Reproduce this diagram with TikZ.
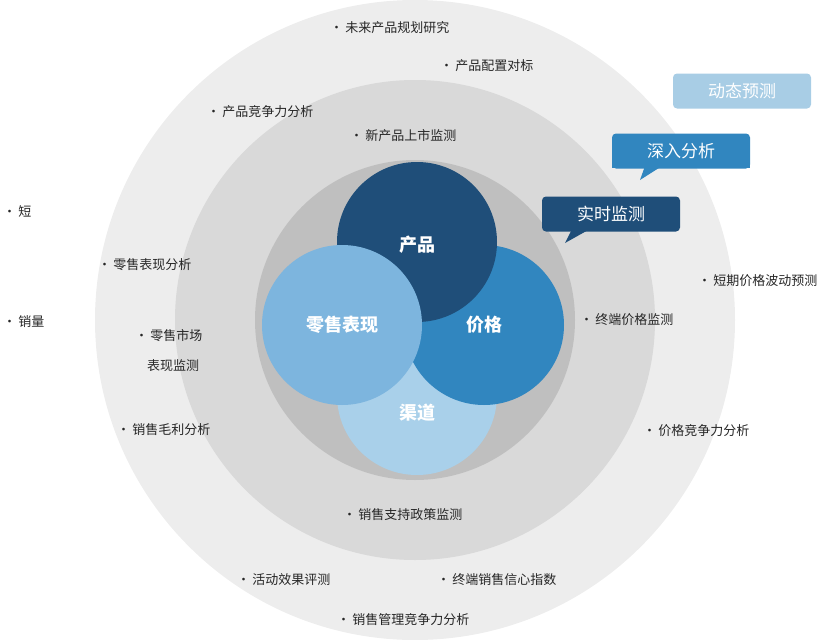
\documentclass[tikz,border=0pt]{standalone}
\usepackage{fontspec}
\setmainfont{Noto Sans CJK SC}
\begin{document}
\begin{tikzpicture}[x=1pt,y=-1pt,
 lab/.style={anchor=west,inner sep=0pt,font=\fontsize{13}{15}\selectfont,text=black!85},
 venn/.style={font=\fontsize{18}{20}\selectfont\bfseries,text=white},
 call/.style={rounded corners=4pt,minimum width=138pt,minimum height=35pt,text=white,font=\fontsize{17}{19}\selectfont}]
\useasboundingbox (0,0) rectangle (836,640);
\definecolor{cA}{HTML}{1F4E79}\definecolor{cB}{HTML}{3186BF}
\definecolor{cC}{HTML}{7DB5DE}\definecolor{cD}{HTML}{A9D0EA}
\definecolor{cE}{HTML}{A8CDE5}
\fill[black!7] (415,320) circle (320);
\fill[black!15] (415,320) circle (240);
\fill[black!25] (415,320) circle (160);
\fill[cD] (417,395) circle (80);
\fill[cB] (484,325) circle (80);
\fill[cA] (417,242) circle (80);
\fill[cC] (342,325) circle (80);
\node[venn] (p) at (417,245) {产品};
\node[venn] (j) at (484,325) {价格};
\node[venn] (l) at (342,325) {零售表现};
\node[venn] (q) at (417,413) {渠道};
\node[call,fill=cE] (c1) at (742,91) {动态预测};
\fill[cB] (612,150) rectangle (750,168) ; 
\node[call,fill=cB] (c2) at (681,151) {深入分析};
\fill[cB] (645,166) -- (640,180) -- (662,166) -- cycle;
\node[call,fill=cA] (c3) at (611,214) {实时监测};
\fill[cA] (572,229) -- (565,243) -- (590,229) -- cycle;
\foreach \x/\y/\t in {330/28/未来产品规划研究,440/66/产品配置对标,207/112/产品竞争力分析,350/136/新产品上市监测,3/211/短/中期市场预测,98/265/零售表现分析,698/281/短期价格波动预测,3/322/销量/库存预警,135/336/零售市场,580/320/终端价格监测,117/430/销售毛利分析,643/431/价格竞争力分析,343/515/销售支持政策监测,237/580/活动效果评测,437/580/终端销售信心指数,337/620/销售管理竞争力分析}
 \node[lab] at (\x,\y) {•\,\t};
\node[lab] (t2) at (147,366) {表现监测};
\end{tikzpicture}
\end{document}
